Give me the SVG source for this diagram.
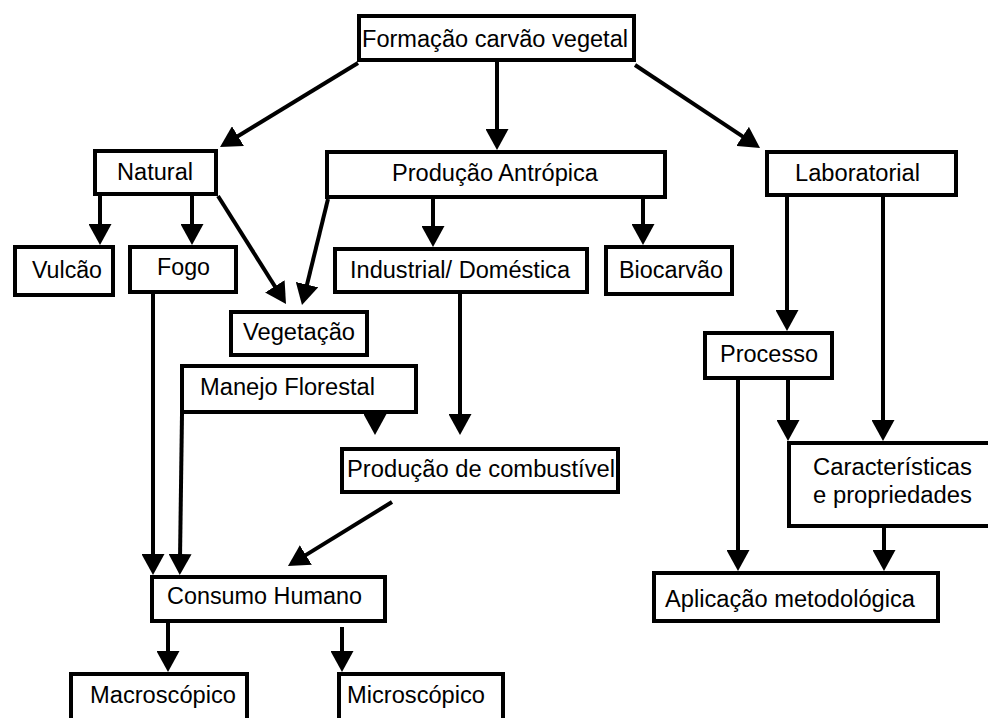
<svg xmlns="http://www.w3.org/2000/svg" width="988" height="718" viewBox="0 0 988 718">
<style>
.box{fill:#fff;stroke:#000;stroke-width:4}
.t{font-family:"Liberation Sans",Arial,sans-serif;font-size:23px;fill:#000}
.c line{stroke:#000;stroke-width:4;marker-end:url(#ah)}
</style>
<defs>
<marker id="ah" viewBox="0 0 21 23" refX="5" refY="11.5" markerWidth="21" markerHeight="23" markerUnits="userSpaceOnUse" orient="auto">
<path d="M0,0 L21,11.5 L0,23 z" fill="#000"/>
</marker>
</defs>
<rect width="988" height="718" fill="#fff"/>
<g class="c" id="connectors">
<line x1="358" y1="63" x2="233.7" y2="138.7"/>
<line x1="497" y1="62" x2="497" y2="134"/>
<line x1="635" y1="65" x2="746.7" y2="139.2"/>
<line x1="100" y1="196" x2="100" y2="229"/>
<line x1="192" y1="196" x2="192" y2="229"/>
<line x1="218" y1="196" x2="277.5" y2="290.5"/>
<line x1="328" y1="199" x2="305.8" y2="289.5"/>
<line x1="433" y1="199" x2="433" y2="231"/>
<line x1="643" y1="199" x2="643" y2="229"/>
<line x1="787" y1="197" x2="787" y2="315"/>
<line x1="883" y1="197" x2="883" y2="425"/>
<line x1="788" y1="380" x2="788" y2="425"/>
<line x1="738" y1="380" x2="738" y2="555"/>
<line x1="884" y1="528" x2="884" y2="555"/>
<line x1="460" y1="294" x2="460" y2="419"/>
<line x1="375" y1="414" x2="375" y2="419"/>
<line x1="153" y1="294" x2="153" y2="559"/>
<line x1="182" y1="414" x2="180" y2="559"/>
<line x1="392" y1="502" x2="301.6" y2="557.6"/>
<line x1="168" y1="623" x2="168" y2="656"/>
<line x1="342" y1="627" x2="342" y2="656"/>
</g>
<g id="formacao"><rect class="box" x="359" y="16" width="275" height="44"/><text class="t" x="362" y="47" textLength="266" lengthAdjust="spacingAndGlyphs">Formação carvão vegetal</text></g>
<g id="natural"><rect class="box" x="95" y="151" width="121" height="43"/><text class="t" x="117" y="180" textLength="76" lengthAdjust="spacingAndGlyphs">Natural</text></g>
<g id="antropica"><rect class="box" x="327" y="152" width="338" height="45"/><text class="t" x="392" y="181" textLength="206" lengthAdjust="spacingAndGlyphs">Produção Antrópica</text></g>
<g id="laboratorial"><rect class="box" x="767" y="152" width="189" height="43"/><text class="t" x="795" y="181" textLength="125" lengthAdjust="spacingAndGlyphs">Laboratorial</text></g>
<g id="vulcao"><rect class="box" x="15" y="247" width="98" height="48"/><text class="t" x="32" y="278" textLength="70" lengthAdjust="spacingAndGlyphs">Vulcão</text></g>
<g id="fogo"><rect class="box" x="130" y="247" width="106" height="45"/><text class="t" x="157" y="275" textLength="53" lengthAdjust="spacingAndGlyphs">Fogo</text></g>
<g id="industrial"><rect class="box" x="335" y="249" width="252" height="43"/><text class="t" x="350" y="278" textLength="220" lengthAdjust="spacingAndGlyphs">Industrial/ Doméstica</text></g>
<g id="biocarvao"><rect class="box" x="606" y="247" width="126" height="47"/><text class="t" x="619" y="278" textLength="104" lengthAdjust="spacingAndGlyphs">Biocarvão</text></g>
<g id="vegetacao"><rect class="box" x="231" y="312" width="136" height="43"/><text class="t" x="243" y="340" textLength="112" lengthAdjust="spacingAndGlyphs">Vegetação</text></g>
<g id="manejo"><rect class="box" x="182" y="366" width="234" height="46"/><text class="t" x="200" y="395" textLength="175" lengthAdjust="spacingAndGlyphs">Manejo Florestal</text></g>
<g id="combustivel"><rect class="box" x="342" y="449" width="276" height="43"/><text class="t" x="347" y="477" textLength="268" lengthAdjust="spacingAndGlyphs">Produção de combustível</text></g>
<g id="processo"><rect class="box" x="705" y="333" width="127" height="45"/><text class="t" x="720" y="362" textLength="98" lengthAdjust="spacingAndGlyphs">Processo</text></g>
<g id="caracteristicas"><rect class="box" x="789" y="443" width="203" height="83"/><text class="t" x="813" y="475" textLength="159" lengthAdjust="spacingAndGlyphs">Características</text><text class="t" x="813" y="503" textLength="159" lengthAdjust="spacingAndGlyphs">e propriedades</text></g>
<g id="aplicacao"><rect class="box" x="654" y="573" width="284" height="48"/><text class="t" x="665" y="607" textLength="250" lengthAdjust="spacingAndGlyphs">Aplicação metodológica</text></g>
<g id="consumo"><rect class="box" x="152" y="577" width="233" height="44"/><text class="t" x="167" y="604" textLength="195" lengthAdjust="spacingAndGlyphs">Consumo Humano</text></g>
<g id="macroscopico"><rect class="box" x="71" y="674" width="176" height="50"/><text class="t" x="90" y="703" textLength="146" lengthAdjust="spacingAndGlyphs">Macroscópico</text></g>
<g id="microscopico"><rect class="box" x="339" y="674" width="164" height="50"/><text class="t" x="347" y="703" textLength="138" lengthAdjust="spacingAndGlyphs">Microscópico</text></g>
</svg>
